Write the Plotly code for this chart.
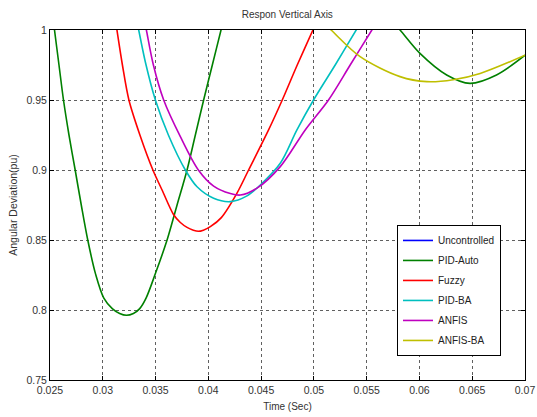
import plotly.graph_objects as go

# ---- data ----
x_ticks = [0.025, 0.03, 0.035, 0.04, 0.045, 0.05, 0.055, 0.06, 0.065, 0.07]
x_tick_text = ["0.025", "0.03", "0.035", "0.04", "0.045", "0.05", "0.055", "0.06", "0.065", "0.07"]
y_ticks = [0.75, 0.8, 0.85, 0.9, 0.95, 1.0]
y_tick_text = ["0.75", "0.8", "0.85", "0.9", "0.95", "1"]

# Uncontrolled response stays outside the plotted window (legend entry only)
uncontrolled_t = [None]
uncontrolled_y = [None]

pid_auto_t = [0.0250, 0.025426, 0.025852, 0.026278, 0.026798, 0.027385, 0.027962, 0.028577,
              0.029306, 0.0301, 0.0309, 0.0316, 0.03224, 0.0329, 0.0335, 0.0341,
              0.034984, 0.036091, 0.037038, 0.037984, 0.038770, 0.039555, 0.040379, 0.041202,
              0.0418,
              None,
              0.0572, 0.05816, 0.06005, 0.06258, 0.06479, 0.0673, 0.0700]
pid_auto_y = [1.025, 1.0, 0.975, 0.95, 0.925, 0.90, 0.875, 0.85,
              0.826, 0.8085, 0.801, 0.7975, 0.7962, 0.7975, 0.801, 0.8085,
              0.826, 0.85, 0.875, 0.90, 0.925, 0.95, 0.975, 1.0,
              1.018,
              None,
              1.008, 1.0, 0.9833, 0.9679, 0.9619, 0.9679, 0.982]

fuzzy_t = [0.0309, 0.031341, 0.031861, 0.032476, 0.033517, 0.034748, 0.035618, 0.036716,
           0.037350, 0.037984, 0.038580, 0.039054, 0.039527, 0.040189, 0.041230, 0.042716,
           0.043814, 0.045707, 0.047003, 0.048423, 0.049909, 0.0505]
fuzzy_y = [1.022, 1.0, 0.975, 0.95, 0.925, 0.90, 0.8857, 0.868,
           0.8625, 0.859, 0.857, 0.8562, 0.857, 0.8595, 0.866, 0.8835,
           0.90, 0.9286, 0.95, 0.975, 1.0, 1.01]

pid_ba_t = [0.0330, 0.033404, 0.034038, 0.034984, 0.036214, 0.037823, 0.038931, 0.040502,
            0.042082, 0.043662, 0.044921, 0.046814, 0.048394, 0.049965, 0.052019, 0.054006,
            0.0548]
pid_ba_y = [1.015, 1.0, 0.977, 0.95, 0.925, 0.90, 0.888, 0.8798,
            0.8774, 0.8815, 0.8893, 0.9048, 0.9286, 0.95, 0.975, 1.0,
            1.01]

anfis_t = [0.0338, 0.034132, 0.034795, 0.035770, 0.037350, 0.039054, 0.040502, 0.042082,
           0.043028, 0.044609, 0.046814, 0.049180, 0.051385, 0.053438, 0.055492, 0.0563]
anfis_y = [1.013, 1.0, 0.975, 0.95, 0.9238, 0.90, 0.8885, 0.8832,
           0.8821, 0.887, 0.9024, 0.9286, 0.95, 0.975, 1.0, 1.01]

anfis_ba_t = [0.0505, 0.05163, 0.05438, 0.05816, 0.0607, 0.0632, 0.06575, 0.0700]
anfis_ba_y = [1.008, 1.0, 0.981, 0.9667, 0.9631, 0.9645, 0.969, 0.982]

series = [
    ("Uncontrolled", uncontrolled_t, uncontrolled_y, "#0000FF"),
    ("PID-Auto", pid_auto_t, pid_auto_y, "#008000"),
    ("Fuzzy", fuzzy_t, fuzzy_y, "#FF0000"),
    ("PID-BA", pid_ba_t, pid_ba_y, "#00BFBF"),
    ("ANFIS", anfis_t, anfis_y, "#BF00BF"),
    ("ANFIS-BA", anfis_ba_t, anfis_ba_y, "#BFBF00"),
]

FONT = "Liberation Sans, Arial, Helvetica, sans-serif"
TXT = "#333333"

fig = go.Figure()
for name, t, y, c in series:
    fig.add_trace(go.Scatter(
        x=t, y=y, name=name, mode="lines", legendgroup=name,
        line=dict(color=c, width=1.6, shape="spline", smoothing=0.9),
        connectgaps=False, showlegend=True,
    ))

axis_common = dict(
    showline=True, linecolor="black", linewidth=1, mirror="ticks",
    ticks="inside", ticklen=4, tickcolor="black",
    showgrid=True, gridcolor="#606060", griddash="dot", gridwidth=1,
    zeroline=False, automargin=False, ticklabeloverflow="allow",
    tickfont=dict(family=FONT, size=10.5, color=TXT),
)

fig.update_layout(
    width=537, height=417,
    margin=dict(l=50, r=12, t=30, b=37),
    paper_bgcolor="white", plot_bgcolor="white",
    title=dict(text="Respon Vertical Axis", x=0.535, xanchor="center", y=0.966, yanchor="middle",
               font=dict(family=FONT, size=10, color=TXT)),
    xaxis=dict(range=[0.025, 0.07], tickvals=x_ticks, ticktext=x_tick_text,
               title=dict(text="Time (Sec)", standoff=8, font=dict(family=FONT, size=10, color=TXT)),
               **axis_common),
    yaxis=dict(range=[0.75, 1.0], tickvals=y_ticks, ticktext=y_tick_text,
               title=dict(text="Angular Deviation(pu)", standoff=6, font=dict(family=FONT, size=10.5, color=TXT)),
               **axis_common),
    showlegend=True,
    legend=dict(x=0.7305, y=0.443, xanchor="left", yanchor="top",
                bgcolor="white", bordercolor="black", borderwidth=1,
                font=dict(family=FONT, size=10, color="#222222"),
                traceorder="grouped", tracegroupgap=1, itemwidth=30),
)

# remove the browser's default 8px body margin so the 537x417 figure fills the window exactly
fig.write_html("out.html",
               config={"displayModeBar": False},
               post_script="document.body.style.margin='0';document.body.style.overflow='hidden';")
